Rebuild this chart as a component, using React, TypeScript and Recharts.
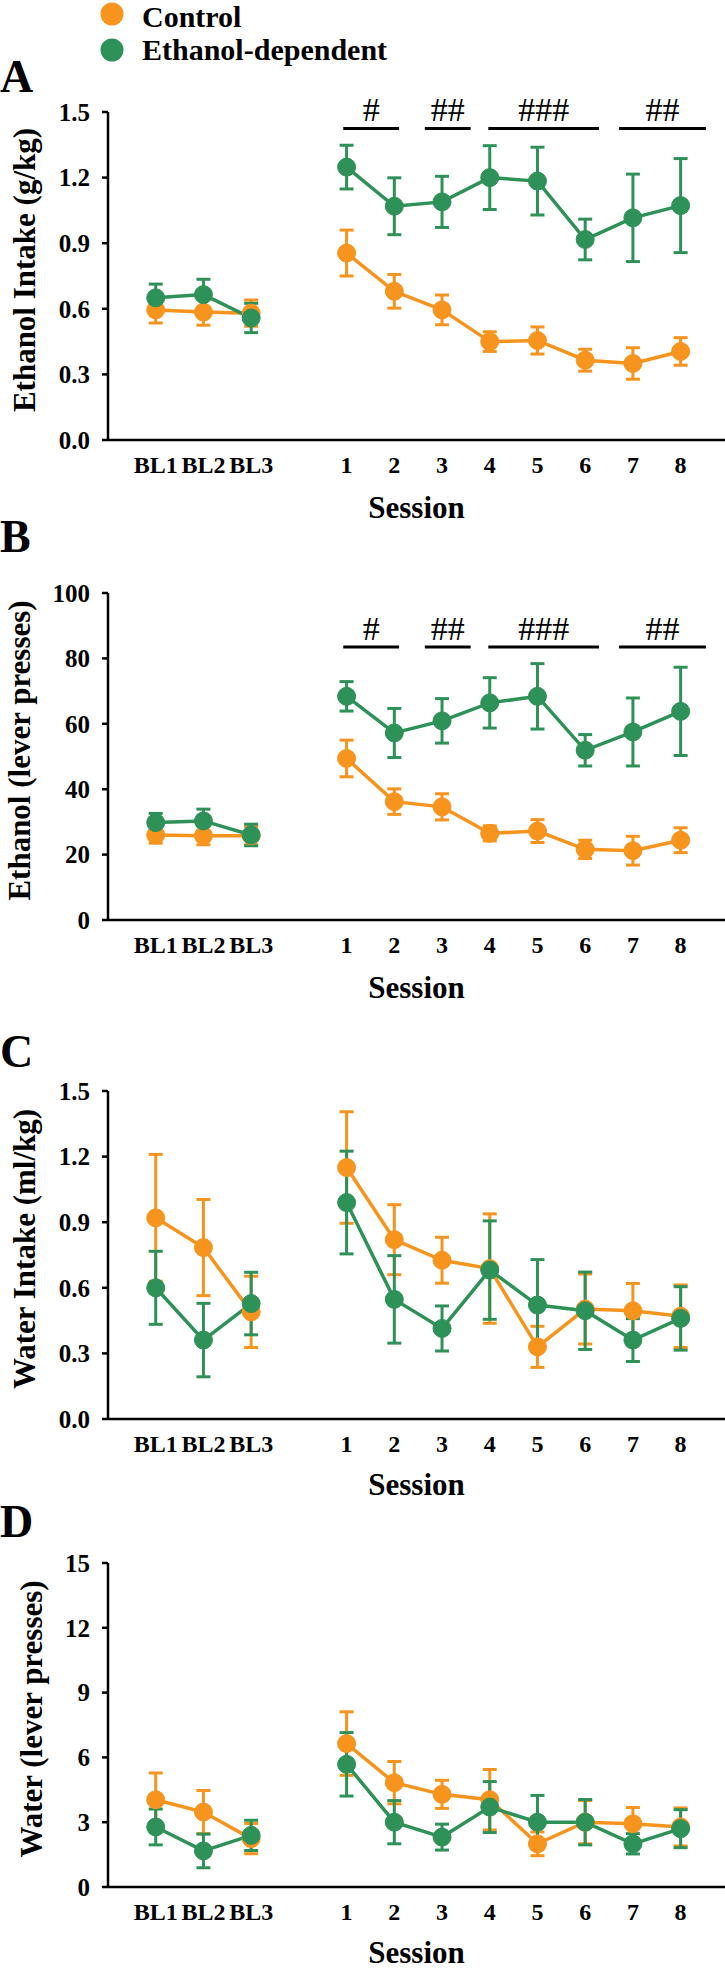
import React from "react";
import { LineChart, Line, XAxis, YAxis, ErrorBar, ReferenceLine } from "recharts";

const ORANGE = "#F7941E";
const GREEN = "#2E9158";
const FONT = '"Liberation Serif", "Times New Roman", serif';

// x slots: three baselines, an empty slot, then sessions 1-8
const categories = ["BL1", "BL2", "BL3", "", "1", "2", "3", "4", "5", "6", "7", "8"];
const tickIndex = [0, 1, 2, 4, 5, 6, 7, 8, 9, 10, 11];

// A: ethanol intake (g/kg)
const intakeCtrl = [0.595, 0.585, 0.58, null, 0.855, 0.68, 0.595, 0.45, 0.455, 0.365, 0.35, 0.405];
const intakeCtrlSem = [0.06, 0.06, 0.06, null, 0.105, 0.077, 0.068, 0.045, 0.062, 0.05, 0.072, 0.063];
const intakeDep = [0.65, 0.665, 0.558, null, 1.248, 1.069, 1.089, 1.2, 1.184, 0.917, 1.016, 1.072];
const intakeDepSem = [0.063, 0.07, 0.067, null, 0.1, 0.13, 0.117, 0.146, 0.155, 0.093, 0.2, 0.215];

// B: ethanol lever presses
const pressCtrl = [26, 25.8, 25.8, null, 49.4, 36.2, 34.6, 26.5, 27.2, 21.6, 21.2, 24.4];
const pressCtrlSem = [2.5, 2.8, 2.8, null, 5.6, 3.9, 4, 2.3, 3.5, 2.8, 4.4, 3.8];
const pressDep = [29.8, 30.3, 26, null, 68.4, 57.2, 60.9, 66.4, 68.4, 51.9, 57.5, 63.8];
const pressDepSem = [2.8, 3.6, 3.3, null, 4.5, 7.5, 6.8, 7.7, 10, 4.8, 10.4, 13.5];

// C: water intake (ml/kg)
const waterCtrl = [0.92, 0.784, 0.49, null, 1.15, 0.82, 0.726, 0.688, 0.33, 0.503, 0.495, 0.47];
const waterCtrlSem = [0.29, 0.22, 0.163, null, 0.255, 0.16, 0.105, 0.25, 0.094, 0.16, 0.125, 0.143];
const waterDep = [0.6, 0.361, 0.528, null, 0.99, 0.547, 0.414, 0.681, 0.521, 0.495, 0.361, 0.46];
const waterDepSem = [0.167, 0.168, 0.143, null, 0.235, 0.2, 0.103, 0.225, 0.208, 0.177, 0.098, 0.145];

// D: water lever presses
const wPressCtrl = [4.04, 3.47, 2.24, null, 6.64, 4.83, 4.29, 4.04, 2.0, 3.0, 2.93, 2.78];
const wPressCtrlSem = [1.24, 1.0, 0.7, null, 1.47, 0.98, 0.65, 1.4, 0.55, 1.0, 0.75, 0.88];
const wPressDep = [2.78, 1.67, 2.39, null, 5.68, 3.0, 2.31, 3.7, 3.0, 3.0, 2.0, 2.7];
const wPressDepSem = [0.83, 0.78, 0.7, null, 1.47, 1.0, 0.6, 1.18, 1.24, 1.05, 0.47, 0.88];

// significance bars (in session units)
const sigStart = [0.93, 2.64, 3.97, 6.71];
const sigEnd = [2.1, 3.6, 6.29, 8.53];
const sigLabels = ["#", "##", "###", "##"];

const ticks15 = [0, 0.3, 0.6, 0.9, 1.2, 1.5];
const ticks100 = [0, 20, 40, 60, 80, 100];
const ticksWater = [0, 3, 6, 9, 12, 15];

function buildRows(ctrl, ctrlSem, dep, depSem) {
  return categories.map((c, i) => ({
    x: i,
    ctrl: ctrl[i],
    ctrlErr: ctrlSem[i],
    dep: dep[i],
    depErr: depSem[i],
  }));
}

const xTickStyle = { fontFamily: FONT, fontSize: 24, fontWeight: 700, fill: "#000" };
const yTickStyle = { fontFamily: FONT, fontSize: 25, fontWeight: 700, fill: "#000" };

function Panel({ top, marginTop, plotHeight, bottomPad, rows, yDomain, yTicks, yFormat, yTitle, titleOffset, sessionOffset, sigLevel }) {
  const height = marginTop + plotHeight + 80 + bottomPad;
  return (
    <div style={{ position: "absolute", left: 0, top, width: 725, height }}>
      <LineChart width={725} height={height} data={rows} margin={{ top: marginTop, right: 0, left: 0, bottom: bottomPad }}>
        <XAxis
          type="number"
          dataKey="x"
          domain={[-1, 11.93]}
          ticks={tickIndex}
          interval={0}
          tickFormatter={(i) => categories[i]}
          height={80}
          tickSize={0}
          tickMargin={16}
          tickLine={false}
          axisLine={{ stroke: "#000", strokeWidth: 2.5 }}
          tick={xTickStyle}
          label={{ value: "Session", position: "insideBottom", offset: sessionOffset, style: { fontFamily: FONT, fontSize: 31, fontWeight: 700, fill: "#000" } }}
        />
        <YAxis
          width={108}
          domain={yDomain}
          ticks={yTicks}
          interval={0}
          allowDataOverflow
          tickFormatter={yFormat}
          tickSize={6}
          tickMargin={12}
          tickLine={{ stroke: "#000", strokeWidth: 2.5 }}
          axisLine={{ stroke: "#000", strokeWidth: 2.5 }}
          tick={yTickStyle}
          label={{ value: yTitle, angle: -90, position: "insideLeft", offset: titleOffset, dy: -6, style: { textAnchor: "middle", fontFamily: FONT, fontSize: 31, fontWeight: 700, fill: "#000" } }}
        />
        {sigLevel != null &&
          sigLabels.map((lab, i) => (
            <ReferenceLine
              key={i}
              segment={[{ x: sigStart[i] + 3, y: sigLevel }, { x: sigEnd[i] + 3, y: sigLevel }]}
              stroke="#000"
              strokeWidth={3}
              ifOverflow="visible"
              label={{ value: lab, position: "top", offset: 7, style: { fontFamily: FONT, fontSize: 34, fill: "#000" } }}
            />
          ))}
        <Line
          dataKey="ctrl"
          stroke={ORANGE}
          strokeWidth={3.5}
          dot={{ r: 9, fill: ORANGE, stroke: ORANGE, strokeWidth: 1 }}
          activeDot={false}
          isAnimationActive={false}
        >
          <ErrorBar dataKey="ctrlErr" direction="y" width={7} strokeWidth={3} stroke={ORANGE} />
        </Line>
        <Line
          dataKey="dep"
          stroke={GREEN}
          strokeWidth={3.5}
          dot={{ r: 9, fill: GREEN, stroke: GREEN, strokeWidth: 1 }}
          activeDot={false}
          isAnimationActive={false}
        >
          <ErrorBar dataKey="depErr" direction="y" width={7} strokeWidth={3} stroke={GREEN} />
        </Line>
      </LineChart>
    </div>
  );
}

const fmt1 = (v) => v.toFixed(1);
const fmt0 = (v) => String(v);

export default function App() {
  const letterStyle = { fontFamily: FONT, fontSize: 46, fontWeight: 700, fill: "#000" };
  return (
    <div style={{ position: "absolute", left: 0, top: 0, width: 725, height: 1970, overflow: "hidden", background: "#fff" }}>
      <Panel top={0} marginTop={112} plotHeight={328} bottomPad={10} rows={buildRows(intakeCtrl, intakeCtrlSem, intakeDep, intakeDepSem)}
        yDomain={[0, 1.5]} yTicks={ticks15} yFormat={fmt1} yTitle="Ethanol Intake (g/kg)" titleOffset={24} sessionOffset={2} sigLevel={1.425} />
      <Panel top={480} marginTop={113} plotHeight={327} bottomPad={10} rows={buildRows(pressCtrl, pressCtrlSem, pressDep, pressDepSem)}
        yDomain={[0, 100]} yTicks={ticks100} yFormat={fmt0} yTitle="Ethanol (lever presses)" titleOffset={19} sessionOffset={2} sigLevel={83.5} />
      <Panel top={960} marginTop={131} plotHeight={328} bottomPad={10} rows={buildRows(waterCtrl, waterCtrlSem, waterDep, waterDepSem)}
        yDomain={[0, 1.5]} yTicks={ticks15} yFormat={fmt1} yTitle="Water Intake (ml/kg)" titleOffset={24} sessionOffset={4} sigLevel={null} />
      <Panel top={1440} marginTop={123} plotHeight={324} bottomPad={3} rows={buildRows(wPressCtrl, wPressCtrlSem, wPressDep, wPressDepSem)}
        yDomain={[0, 15]} yTicks={ticksWater} yFormat={fmt0} yTitle="Water (lever presses)" titleOffset={31} sessionOffset={4} sigLevel={null} />
      <svg width={725} height={1970} style={{ position: "absolute", left: 0, top: 0, pointerEvents: "none" }}>
        <circle cx={112} cy={14} r={11.5} fill={ORANGE} />
        <circle cx={112} cy={50} r={11.5} fill={GREEN} />
        <text x={142} y={27} style={{ fontFamily: FONT, fontSize: 30, fontWeight: 700 }}>Control</text>
        <text x={142} y={60} style={{ fontFamily: FONT, fontSize: 30, fontWeight: 700 }}>Ethanol-dependent</text>
        <text x={0} y={92} style={letterStyle}>A</text>
        <text x={0} y={552} style={letterStyle}>B</text>
        <text x={0} y={1067} style={letterStyle}>C</text>
        <text x={0} y={1537} style={letterStyle}>D</text>
      </svg>
    </div>
  );
}
